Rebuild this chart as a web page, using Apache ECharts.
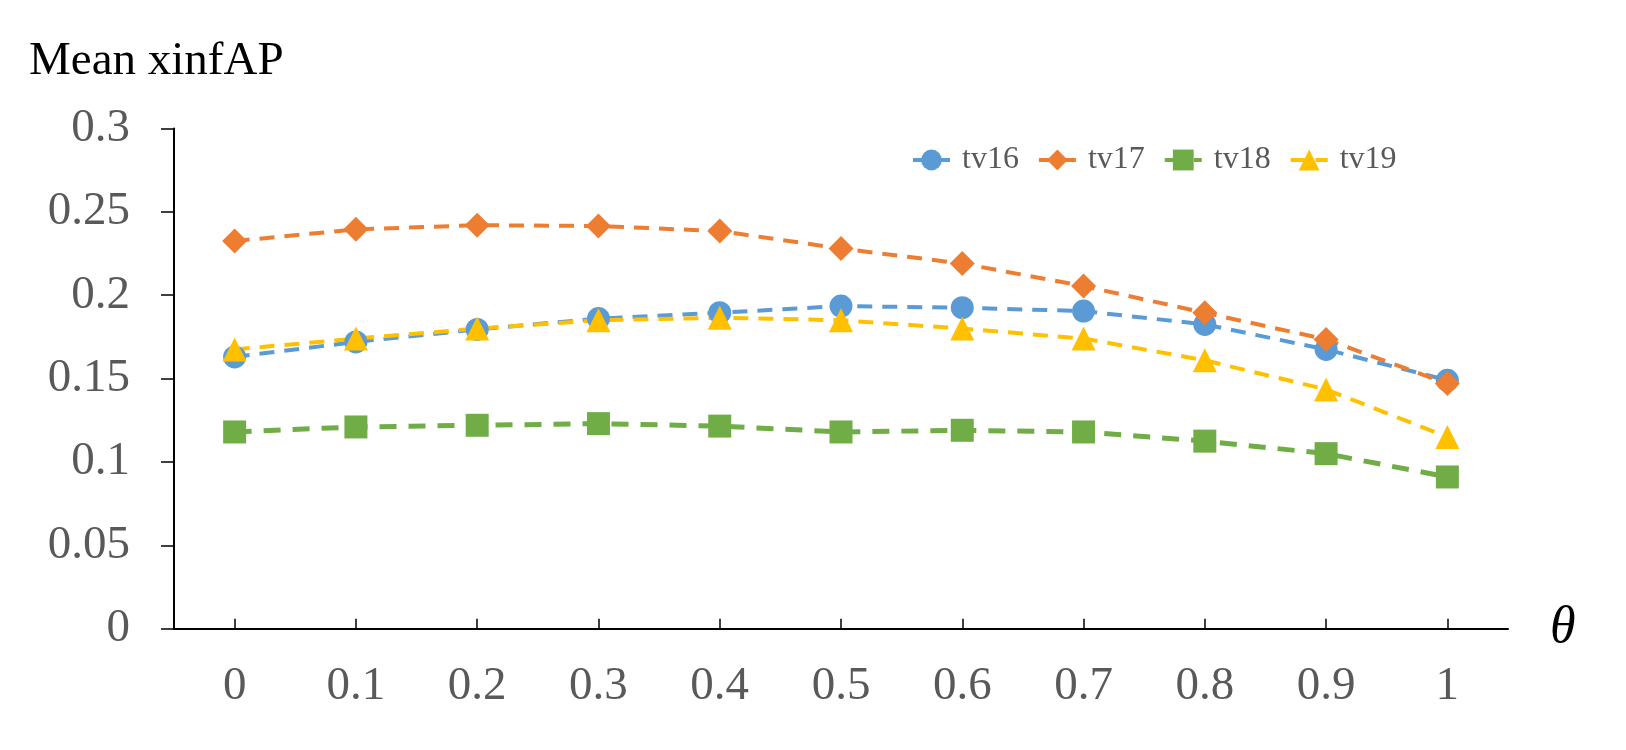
<!DOCTYPE html>
<html>
<head>
<meta charset="utf-8">
<script src="https://cdn.jsdelivr.net/npm/echarts@6/dist/echarts.min.js"></script>
<style>
html,body{margin:0;padding:0;background:#fff;}
#chart{width:1626px;height:750px;}
</style>
</head>
<body>
<div id="chart"></div>
<script>
const categories = ['0','0.1','0.2','0.3','0.4','0.5','0.6','0.7','0.8','0.9','1'];
const tv16 = [0.163,0.172,0.1795,0.186,0.1895,0.1935,0.1925,0.1905,0.1825,0.1675,0.149];
const tv17 = [0.2325,0.2395,0.242,0.2415,0.2385,0.228,0.219,0.2055,0.1895,0.1735,0.147];
const tv18 = [0.118,0.121,0.122,0.123,0.1215,0.118,0.119,0.118,0.1125,0.105,0.091];
const tv19 = [0.1675,0.174,0.18,0.185,0.1865,0.185,0.18,0.174,0.161,0.1435,0.115];
const yTicks = [0,0.05,0.1,0.15,0.2,0.25,0.3];

const serif = "'Liberation Serif','DejaVu Serif',serif";
const gray = '#595959';

function mk(name, data, color, symbol, size, width, dash) {
  return {
    name: name, type: 'line', data: data,
    symbol: symbol, symbolSize: size,
    itemStyle: {color: color},
    lineStyle: {color: color, width: width, type: dash},
    animation: false
  };
}

const chart = echarts.init(document.getElementById('chart'));
chart.setOption({
  backgroundColor: '#fff',
  animation: false,
  title: {
    text: 'Mean xinfAP', left: 24, top: 33,
    textStyle: {fontFamily: serif, fontSize: 47, fontWeight: 'normal', color: '#000'}
  },
  legend: {
    left: 906, top: 139,
    itemWidth: 37, itemHeight: 26, itemGap: 18,
    lineStyle: {width: 4},
    textStyle: {fontFamily: serif, fontSize: 32, color: gray, padding: [0,0,0,7]},
    data: ['tv16','tv17','tv18','tv19']
  },
  grid: {left: 174, right: 118, top: 128.5, bottom: 121.3, containLabel: false},
  xAxis: {
    type: 'category', data: categories, boundaryGap: true,
    name: 'θ', nameLocation: 'end', nameGap: 42,
    nameTextStyle: {fontFamily: serif, fontStyle: 'italic', fontSize: 52, color: '#000', verticalAlign: 'middle'},
    axisLine: {lineStyle: {color: '#000', width: 2}},
    axisTick: {show: true, inside: true, length: 10, alignWithLabel: true, lineStyle: {color: '#000', width: 1.5}},
    axisLabel: {fontFamily: serif, fontSize: 47, color: gray, margin: 34},
    splitLine: {show: false}
  },
  yAxis: {
    type: 'value', min: yTicks[0], max: yTicks[yTicks.length-1], interval: yTicks[1]-yTicks[0],
    axisLine: {show: true, lineStyle: {color: '#000', width: 2}},
    axisTick: {show: true, inside: false, length: 13, lineStyle: {color: '#000', width: 1.5}},
    axisLabel: {fontFamily: serif, fontSize: 47, color: gray, margin: 44,
      formatter: function (v) { return String(+v.toFixed(2)); }},
    splitLine: {show: false}
  },
  series: [
    mk('tv16', tv16, '#5B9BD5', 'circle', 23, 4, [15, 10]),
    mk('tv17', tv17, '#ED7D31', 'diamond', 25, 4, [15, 10]),
    mk('tv18', tv18, '#70AD47', 'rect', 23, 5, [17, 12]),
    mk('tv19', tv19, '#FFC000', 'triangle', 24, 4, [15, 10])
  ]
});
</script>
</body>
</html>
